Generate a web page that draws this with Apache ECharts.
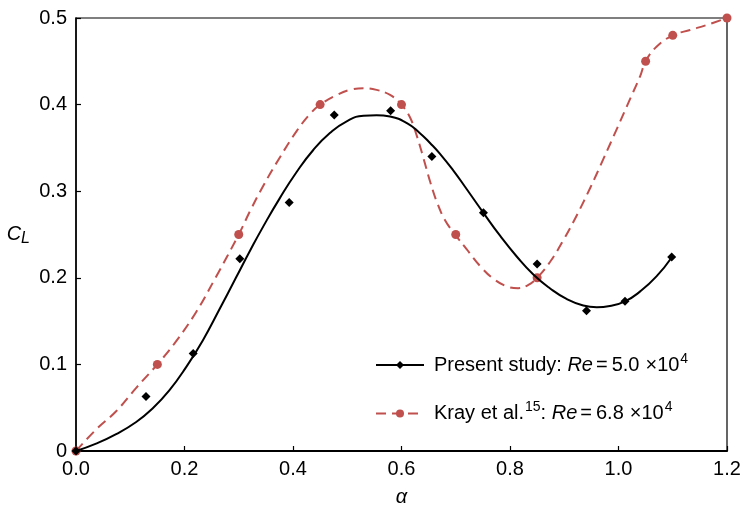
<!DOCTYPE html>
<html>
<head>
<meta charset="utf-8">
<script src="https://cdn.jsdelivr.net/npm/echarts@6/dist/echarts.min.js"></script>
<style>html,body{margin:0;padding:0;background:#fff}#c{width:744px;height:506px}</style>
</head>
<body>
<div id="c"></div>
<script>
// Present study: measured points
const presentX = [0, 0.129, 0.216, 0.302, 0.393, 0.476, 0.580, 0.656, 0.751, 0.850, 0.941, 1.012, 1.098];
const presentY = [0, 0.063, 0.1125, 0.222, 0.287, 0.388, 0.393, 0.340, 0.275, 0.216, 0.162, 0.173, 0.224];
// Present study: fitted trend curve
const fitX = [0, 0.037, 0.074, 0.111, 0.141, 0.172, 0.203, 0.234, 0.264, 0.295, 0.321, 0.345, 0.376, 0.407, 0.437, 0.468, 0.499, 0.530, 0.554, 0.579, 0.610, 0.634, 0.653, 0.671, 0.696, 0.720, 0.751, 0.782, 0.812, 0.843, 0.874, 0.905, 0.935, 0.960, 0.984, 1.012, 1.040, 1.070, 1.098];
const fitY = [0, 0.0085, 0.0195, 0.0335, 0.0490, 0.0700, 0.0968, 0.1280, 0.1631, 0.2003, 0.2315, 0.2591, 0.2923, 0.3224, 0.3473, 0.3671, 0.3807, 0.3872, 0.3878, 0.3862, 0.3786, 0.3670, 0.3554, 0.3432, 0.3235, 0.3025, 0.2750, 0.2483, 0.2249, 0.2038, 0.1877, 0.1753, 0.1680, 0.1660, 0.1675, 0.1728, 0.1843, 0.2016, 0.2235];
// Kray et al.: data points
const krayX = [0, 0.15, 0.30, 0.45, 0.60, 0.70, 0.85, 1.05, 1.10, 1.20];
const krayY = [0, 0.10, 0.25, 0.40, 0.40, 0.25, 0.20, 0.45, 0.48, 0.50];
// Kray et al.: smoothed dashed curve
const krayCurveX = [0, 0.037, 0.074, 0.111, 0.15, 0.184, 0.221, 0.258, 0.30, 0.321, 0.345, 0.376, 0.407, 0.431, 0.45, 0.481, 0.505, 0.530, 0.554, 0.579, 0.60, 0.616, 0.628, 0.640, 0.653, 0.665, 0.680, 0.70, 0.720, 0.745, 0.769, 0.794, 0.815, 0.834, 0.85, 0.874, 0.898, 0.923, 0.948, 0.972, 0.997, 1.021, 1.040, 1.05, 1.070, 1.10, 1.132, 1.163, 1.20];
const krayCurveY = [0, 0.0248, 0.0459, 0.0729, 0.10, 0.1262, 0.1600, 0.2010, 0.25, 0.2773, 0.3061, 0.3393, 0.3697, 0.3889, 0.40, 0.4112, 0.4170, 0.4189, 0.4170, 0.4112, 0.40, 0.3848, 0.3644, 0.3392, 0.3106, 0.2878, 0.2668, 0.2490, 0.2330, 0.2135, 0.1991, 0.1901, 0.1880, 0.1918, 0.20, 0.2185, 0.2430, 0.2720, 0.3040, 0.3370, 0.3720, 0.4060, 0.4330, 0.45, 0.4669, 0.48, 0.4862, 0.4920, 0.50];
// axis ticks
const xTicks = ['0.0', '0.2', '0.4', '0.6', '0.8', '1.0', '1.2'];
const yTicks = ['0', '0.1', '0.2', '0.3', '0.4', '0.5'];

const zip = (a, b) => a.map((v, i) => [v, b[i]]);
const RED = '#C0504D';
const FONT = 'Liberation Sans, Arial, sans-serif';
const FS = 20;

const chart = echarts.init(document.getElementById('c'), null, {renderer: 'canvas'});
chart.setOption({
  animation: false,
  backgroundColor: '#fff',
  grid: {left: 76, right: 17, top: 18, bottom: 55, show: true, borderColor: '#000', borderWidth: 1.2,
    containLabel: false, outerBoundsMode: 'none'},
  xAxis: {
    type: 'value', min: 0, max: 1.2, interval: 0.2,
    name: 'α', nameLocation: 'middle', nameGap: 36,
    nameTextStyle: {fontFamily: FONT, fontSize: FS, fontStyle: 'italic', color: '#000'},
    axisLine: {show: true, onZero: false, lineStyle: {color: '#000', width: 2}},
    axisTick: {show: true, inside: true, length: 5, lineStyle: {color: '#000', width: 1.2}},
    axisLabel: {margin: 8, fontFamily: FONT, fontSize: FS, color: '#000',
      formatter: (v) => xTicks[Math.round(v / 0.2)]},
    splitLine: {show: false}
  },
  yAxis: {
    type: 'value', min: 0, max: 0.5, interval: 0.1,
    name: '{c|C}{l|L}', nameLocation: 'middle', nameRotate: 0, nameGap: 46,
    nameTextStyle: {fontFamily: FONT, color: '#000', padding: [0, 0, 1, 0],
      rich: {c: {fontSize: FS, fontStyle: 'italic', fontFamily: FONT, color: '#000'},
             l: {fontSize: 16, fontStyle: 'italic', fontFamily: FONT, color: '#000', padding: [10, 0, 0, 0]}}},
    axisLine: {show: true, onZero: false, lineStyle: {color: '#000', width: 1.5}},
    axisTick: {show: true, inside: true, length: 5, lineStyle: {color: '#000', width: 1.2}},
    axisLabel: {margin: 9, fontFamily: FONT, fontSize: FS, color: '#000',
      formatter: (v) => yTicks[Math.round(v / 0.1)]},
    splitLine: {show: false}
  },
  legend: {
    orient: 'vertical', left: 370, top: 347, itemWidth: 48, itemHeight: 10, itemGap: 22.5,
    data: ['present', 'kray'],
    formatter: (n) => n === 'present'
      ? 'Present study: {i|Re}{e|=}{t|5.0}{x|×10}{s|4}'
      : 'Kray et al.{s|15}{t|: }{i|Re}{e|=}{t|6.8}{x|×10}{s|4}',
    textStyle: {fontFamily: FONT, fontSize: FS, color: '#000', lineHeight: 24, padding: [0, 0, 0, 5],
      rich: {
        i: {fontFamily: FONT, fontSize: FS, fontStyle: 'italic', color: '#000', lineHeight: 24},
        t: {fontFamily: FONT, fontSize: FS, color: '#000', lineHeight: 24},
        x: {fontFamily: FONT, fontSize: FS, color: '#000', lineHeight: 24, padding: [0, 0, 0, 6]},
        e: {fontFamily: FONT, fontSize: FS, color: '#000', lineHeight: 24, padding: [0, 4, 0, 3]},
        s: {fontFamily: FONT, fontSize: 14, color: '#000', lineHeight: 24, padding: [0, 0, 12, 1]}
      }}
  },
  series: [
    {
      name: 'present', type: 'line', data: zip(fitX, fitY), smooth: 0.5,
      symbol: 'diamond', symbolSize: 6, showSymbol: false,
      lineStyle: {color: '#000', width: 2}, itemStyle: {color: '#000'}, z: 3
    },
    {
      name: 'presentPts', type: 'scatter', data: zip(presentX, presentY),
      symbol: 'diamond', symbolSize: 9, itemStyle: {color: '#000', opacity: 1}, z: 4
    },
    {
      name: 'kray', type: 'line', data: zip(krayCurveX, krayCurveY), smooth: 0.4,
      symbol: 'circle', symbolSize: 9, showSymbol: false,
      lineStyle: {color: RED, width: 2, type: [10, 6]}, itemStyle: {color: RED}, z: 2
    },
    {
      name: 'krayPts', type: 'scatter', data: zip(krayX, krayY),
      symbol: 'circle', symbolSize: 9, itemStyle: {color: RED, opacity: 1}, z: 2
    }
  ]
});
</script>
</body>
</html>
